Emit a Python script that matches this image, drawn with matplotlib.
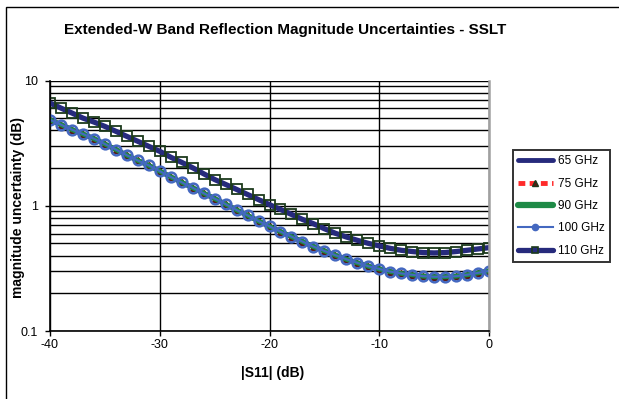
import numpy as np
import matplotlib
matplotlib.use("Agg")
from matplotlib import pyplot as plt
from matplotlib.patches import Rectangle
from matplotlib.lines import Line2D

plt.rcParams['font.family'] = ['Liberation Sans', 'DejaVu Sans']

# |S11| in dB, one point per dB
s11 = list(range(-40, 1))

# lower group: 65, 75, 90 and 100 GHz lie on top of each other
lower = [4.86, 4.44, 4.05, 3.74, 3.43, 3.11, 2.81, 2.53, 2.30, 2.10,
         1.89, 1.70, 1.54, 1.39, 1.26, 1.14, 1.03, 0.925, 0.838, 0.755,
         0.685, 0.621, 0.567, 0.518, 0.472, 0.436, 0.403, 0.374, 0.350, 0.329,
         0.313, 0.298, 0.288, 0.281, 0.274, 0.271, 0.271, 0.274, 0.281, 0.291,
         0.302]
u65 = lower
u75 = lower
u90 = lower
u100 = lower
u110 = [6.61, 6.02, 5.50, 5.01, 4.66, 4.30, 3.93, 3.58, 3.27, 2.98,
        2.72, 2.44, 2.22, 2.01, 1.80, 1.62, 1.48, 1.35, 1.23, 1.12,
        1.02, 0.935, 0.853, 0.778, 0.719, 0.656, 0.603, 0.563, 0.530, 0.501,
        0.478, 0.457, 0.441, 0.431, 0.423, 0.420, 0.423, 0.431, 0.441, 0.452,
        0.463]
labels = ['65 GHz', '75 GHz', '90 GHz', '100 GHz', '110 GHz']

navy = '#262a7c'
red = '#ff2a2a'
green = '#1e8a46'
blue = '#4468c0'
dkgreen = '#1c3a1c'

fig = plt.figure(figsize=(6.19, 3.99), dpi=100)
# outer chart frame (right and bottom edges fall outside the image)
fig.patches.append(Rectangle((5.5/619, -0.01), 1.0, 1 - 6.5/399 + 0.01,
                             transform=fig.transFigure, fill=False,
                             edgecolor='black', linewidth=1.0))

ax = fig.add_axes([50/619, 1 - 331/399, 439/619, 250.5/399])

ax.plot(s11, u65, color=navy, linewidth=3.5)
ax.plot(s11, u75, color=red, linewidth=2.5, linestyle=(0, (2, 1.5)),
        marker='^', markersize=4, markerfacecolor='#5a1a10',
        markeredgecolor='#5a1a10')
ax.plot(s11, u90, color=green, linewidth=3.5)
ax.plot(s11, u100, color=blue, linewidth=1.5, marker='o', markersize=7,
        markerfacecolor='none', markeredgecolor=blue, markeredgewidth=1.8)
ax.plot(s11, u110, color=navy, linewidth=3.8, marker='s', markersize=7.8,
        markerfacecolor='none', markeredgecolor=dkgreen, markeredgewidth=1.3)

ax.set_yscale('log')
ax.set_xlim(-40, 0)
ax.set_ylim(0.1, 10)
ax.set_xticks([-40, -30, -20, -10, 0])
ax.set_xticklabels(['-40', '-30', '-20', '-10', '0'])
ax.set_yticks([0.1, 1, 10])
ax.set_yticklabels(['0.1', '1', '10'])
ax.yaxis.set_minor_formatter(matplotlib.ticker.NullFormatter())
ax.tick_params(axis='y', which='minor', length=0)
ax.tick_params(axis='y', which='major', direction='out', length=3.5,
               width=1, labelsize=9, pad=5)
ax.tick_params(axis='x', which='major', direction='out', length=3.5,
               width=1, labelsize=9, pad=2)

ax.grid(True, which='both', axis='y', color='black', linewidth=1.0)
ax.grid(True, which='major', axis='x', color='black', linewidth=1.0)
ax.set_axisbelow(True)

ax.spines['top'].set_visible(False)
ax.spines['right'].set_color('#a0a0a0')
ax.spines['right'].set_linewidth(1.8)
ax.spines['left'].set_linewidth(1.2)
ax.spines['bottom'].set_linewidth(1.2)

fig.text(285/619, 1 - 30/399,
         'Extended-W Band Reflection Magnitude Uncertainties - SSLT',
         ha='center', va='center', fontsize=11, fontweight='bold')
fig.text(18/619, 1 - 207/399, 'magnitude uncertainty (dB)', rotation=90,
         ha='center', va='center', fontsize=10, fontweight='bold')
fig.text(273/619, 1 - 373/399, '|S11| (dB)', ha='center', va='center',
         fontsize=10, fontweight='bold')

# legend keys drawn small, as in the reference
handles = [
    Line2D([], [], color=navy, linewidth=3.5, solid_capstyle='round'),
    Line2D([], [], color=red, linewidth=3.5, linestyle=(0, (1.4, 0.9)),
           marker='^', markersize=5,
           markerfacecolor='#5a1a10', markeredgecolor=dkgreen),
    Line2D([], [], color=green, linewidth=4.5, solid_capstyle='round'),
    Line2D([], [], color=blue, linewidth=1.5, marker='o', markersize=4.5,
           markerfacecolor=blue, markeredgecolor=blue),
    Line2D([], [], color=navy, linewidth=3.8, marker='s', markersize=5,
           markerfacecolor=navy, markeredgecolor=dkgreen,
           markeredgewidth=1.2, solid_capstyle='round'),
]
leg = fig.legend(handles, labels, loc='upper left',
                 bbox_to_anchor=(513/619, 1 - 150/399),
                 bbox_transform=fig.transFigure, fontsize=8.5, frameon=True,
                 fancybox=False, edgecolor='black', handlelength=2.9,
                 handletextpad=0.45, labelspacing=0.88, borderpad=0.45,
                 borderaxespad=0, numpoints=1)
leg.get_frame().set_linewidth(1.4)

fig.savefig('out.png', dpi=100)
